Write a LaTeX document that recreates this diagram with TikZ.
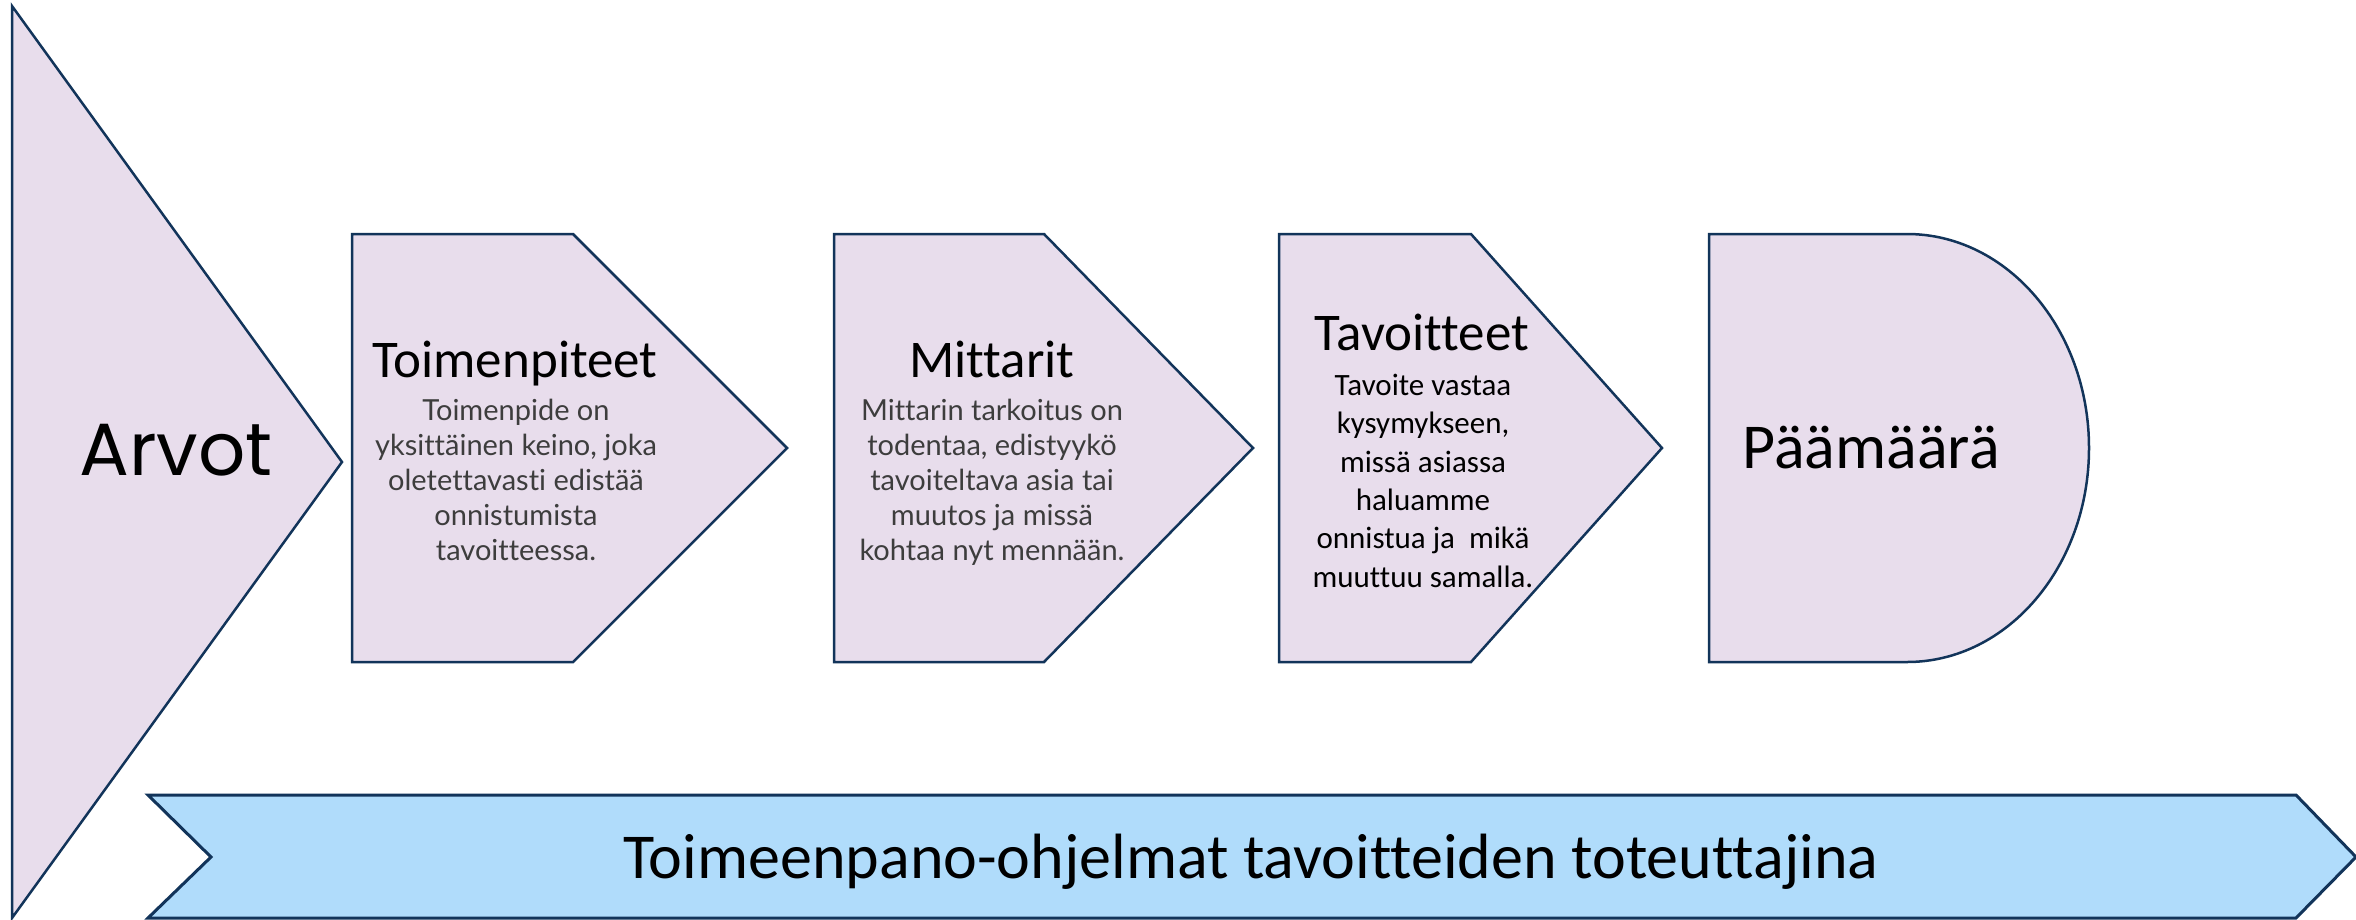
\documentclass[tikz,border=0pt]{standalone}
\usepackage{fontspec}
\setmainfont{Carlito}[Ligatures=NoCommon]
\newfontfamily\latofont{Lato}[Ligatures=NoCommon]
\newfontfamily\geofont{Poppins}[Ligatures=NoCommon]
\definecolor{boxfill}{HTML}{E8DDEC}
\definecolor{bandfill}{HTML}{B0DCFB}
\definecolor{edge}{HTML}{12345A}
\definecolor{bodygray}{HTML}{3D3D3D}
\begin{document}
\begin{tikzpicture}[x=1pt,y=-1pt,
  shapebox/.style={fill=boxfill,draw=edge,line width=2.5pt,line join=miter},
  bandbox/.style={fill=bandfill,draw=edge,line width=3pt,line join=miter},
  titletext/.style={inner sep=0pt,anchor=base,font={\fontsize{53}{63}\selectfont}},
  latobody/.style={inner sep=0pt,anchor=base,align=center,text=bodygray,font={\latofont\fontsize{29}{35}\selectfont}},
  calbody/.style={inner sep=0pt,anchor=base,align=center,font={\fontsize{31}{38.3}\selectfont}}]
\useasboundingbox (0,0) rectangle (2356,919);
% Arvot triangle
\draw[shapebox] (12,6) -- (342,462) -- (12,918) -- cycle;
\node[inner sep=0pt,anchor=base,font={\geofont\fontsize{74}{88}\selectfont}] (arvot) at (176,475) {Arvot};
% Toimenpiteet
\draw[shapebox] (352,234) -- (573,234) -- (787,448) -- (573,662) -- (352,662) -- cycle;
\node[titletext] (t1) at (515,377) {Toimenpiteet};
\node[latobody] (b1) at (516,560) {Toimenpide on\\yksittäinen keino, joka\\oletettavasti edistää\\onnistumista\\tavoitteessa.};
% Mittarit
\draw[shapebox] (834,234) -- (1044,234) -- (1253,448) -- (1044,662) -- (834,662) -- cycle;
\node[titletext] (t2) at (992,377) {Mittarit};
\node[latobody] (b2) at (992,560) {Mittarin tarkoitus on\\todentaa, edistyykö\\tavoiteltava asia tai\\muutos ja missä\\kohtaa nyt mennään.};
% Tavoitteet
\draw[shapebox] (1279,234) -- (1471,234) -- (1662,448) -- (1471,662) -- (1279,662) -- cycle;
\node[titletext] (t3) at (1422,350) {Tavoitteet};
\node[calbody] (b3) at (1423,587) {Tavoite vastaa\\kysymykseen,\\missä asiassa\\haluamme\\onnistua ja~ mikä\\muuttuu samalla.};
% Paamaara
\draw[shapebox] (1709,234) -- (1907,234) .. controls (2007.5,234) and (2089,329.8) .. (2089,448) .. controls (2089,566.2) and (2007.5,662) .. (1907,662) -- (1709,662) -- cycle;
\node[inner sep=0pt,anchor=base,font={\fontsize{64}{76}\selectfont}] (paa) at (1871,468) {Päämäärä};
% Banner
\draw[bandbox] (148,795) -- (2296,795) -- (2356,857) -- (2296,918) -- (148,918) -- (211,857) -- cycle;
\node[inner sep=0pt,anchor=base,font={\fontsize{64}{77}\selectfont}] (band) at (1251,878) {Toimeenpano-ohjelmat tavoitteiden toteuttajina};
\end{tikzpicture}
\end{document}
